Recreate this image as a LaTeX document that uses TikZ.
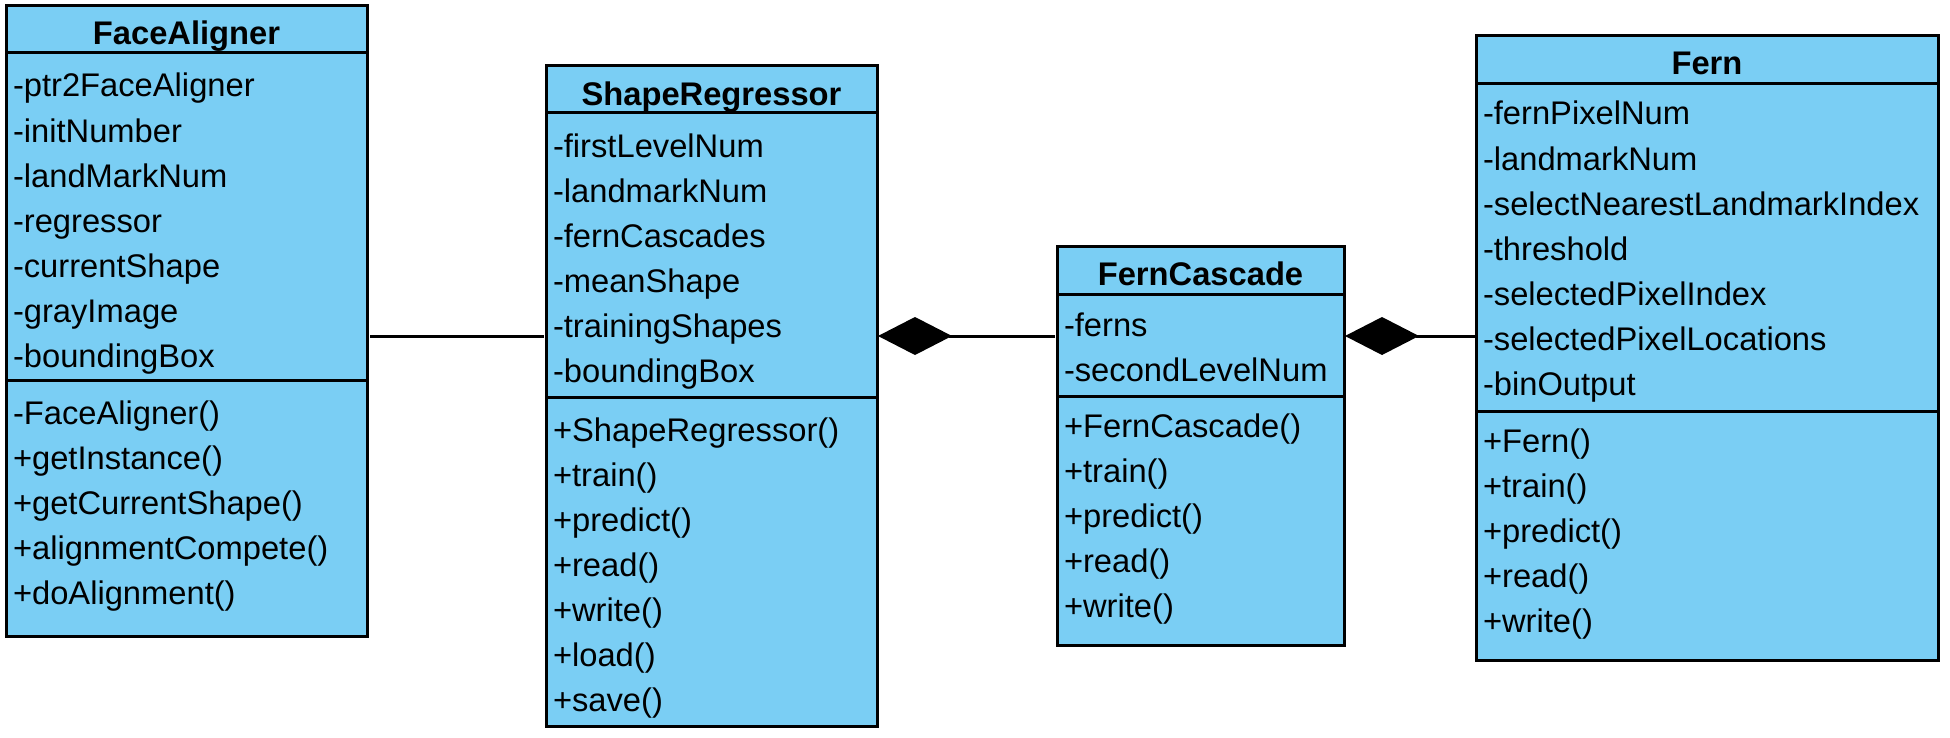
\documentclass[tikz,border=0pt]{standalone}
\usepackage{fontspec}
\setmainfont{Liberation Sans}
\usetikzlibrary{arrows.meta}
\definecolor{umlblue}{RGB}{122,206,244}
\begin{document}
\begin{tikzpicture}[x=0.5pt,y=-0.5pt,line width=1.5pt,
  classbox/.style={draw=black,fill=umlblue,anchor=north west,inner sep=0pt,outer sep=0pt},
  rowtext/.style={anchor=base west,inner sep=0pt,font=\fontsize{16.35}{19}\selectfont},
  titletext/.style={anchor=base,inner sep=0pt,font=\fontsize{16.35}{19}\selectfont\bfseries},
  comptip/.style={-{Diamond[length=37pt,width=19pt]}}]
\useasboundingbox (0,0) rectangle (1950,738);

% boxes
\node[classbox,minimum width=180.5pt,minimum height=315pt] (fa) at (6,6) {};
\node[classbox,minimum width=165.5pt,minimum height=330pt] (sr) at (546,66) {};
\node[classbox,minimum width=143.5pt,minimum height=199.5pt] (fc) at (1057,246) {};
\node[classbox,minimum width=231pt,minimum height=312pt] (fn) at (1476,36) {};

% separators
\draw (fa.west |- 0,53) -- (fa.east |- 0,53);
\draw (fa.west |- 0,380) -- (fa.east |- 0,380);
\draw (sr.west |- 0,113) -- (sr.east |- 0,113);
\draw (sr.west |- 0,397) -- (sr.east |- 0,397);
\draw (fc.west |- 0,294) -- (fc.east |- 0,294);
\draw (fc.west |- 0,396) -- (fc.east |- 0,396);
\draw (fn.west |- 0,84) -- (fn.east |- 0,84);
\draw (fn.west |- 0,411) -- (fn.east |- 0,411);

% titles
\node[titletext] (fa-t) at (186.5,45) {FaceAligner};
\node[titletext] (sr-t) at (711.5,105) {ShapeRegressor};
\node[titletext] (fc-t) at (1200.5,285) {FernCascade};
\node[titletext] (fn-t) at (1707,75) {Fern};

% FaceAligner
\foreach \t [count=\i from 0] in {-ptr2FaceAligner,-initNumber,-landMarkNum,-regressor,-currentShape,-grayImage,-boundingBox}
  \node[rowtext] (fa-a\i) at (11.5,{97+45*\i}) {\t};
\foreach \t [count=\i from 0] in {-FaceAligner(),+getInstance(),+getCurrentShape(),+alignmentCompete(),+doAlignment()}
  \node[rowtext] (fa-m\i) at (11.5,{424+45*\i}) {\t};

% ShapeRegressor
\foreach \t [count=\i from 0] in {-firstLevelNum,-landmarkNum,-fernCascades,-meanShape,-trainingShapes,-boundingBox}
  \node[rowtext] (sr-a\i) at (551.5,{157+45*\i}) {\t};
\foreach \t [count=\i from 0] in {+ShapeRegressor(),+train(),+predict(),+read(),+write(),+load(),+save()}
  \node[rowtext] (sr-m\i) at (551.5,{441+45*\i}) {\t};

% FernCascade
\foreach \t [count=\i from 0] in {-ferns,-secondLevelNum}
  \node[rowtext] (fc-a\i) at (1062.5,{336+45*\i}) {\t};
\foreach \t [count=\i from 0] in {+FernCascade(),+train(),+predict(),+read(),+write()}
  \node[rowtext] (fc-m\i) at (1062.5,{437+45*\i}) {\t};

% Fern
\foreach \t [count=\i from 0] in {-fernPixelNum,-landmarkNum,-selectNearestLandmarkIndex,-threshold,-selectedPixelIndex,-selectedPixelLocations,-binOutput}
  \node[rowtext] (fn-a\i) at (1481.5,{125+45*\i}) {\t};
\foreach \t [count=\i from 0] in {+Fern(),+train(),+predict(),+read(),+write()}
  \node[rowtext] (fn-m\i) at (1481.5,{452+45*\i}) {\t};

% connectors
\coordinate (lvl) at (0,336);
\draw ([xshift=1.5pt]fa.east |- lvl) -- ([xshift=-1pt]sr.west |- lvl);
\draw[comptip] ([xshift=-1pt]fc.west |- lvl) -- ([xshift=0.5pt]sr.east |- lvl);
\draw[comptip] (fn.west |- lvl) -- ([xshift=0.5pt]fc.east |- lvl);
\end{tikzpicture}
\end{document}
